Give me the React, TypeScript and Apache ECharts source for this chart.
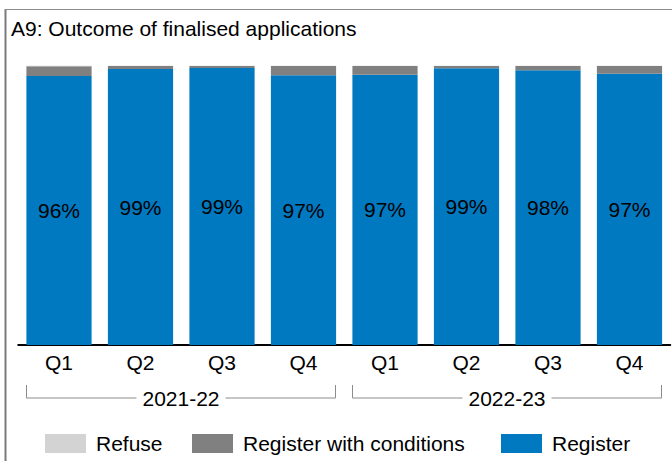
import React, { useEffect, useRef } from "react";
import * as echarts from "echarts";

const quarters = ["Q1", "Q2", "Q3", "Q4", "Q1", "Q2", "Q3", "Q4"];
const years = ["2021-22", "2022-23"];
const register = [96.3, 98.8, 99.2, 96.6, 96.8, 99.1, 98.4, 97.1];
const conditions = [3.5, 1.1, 0.7, 3.3, 3.1, 0.8, 1.5, 2.8];
const refuse = [0.2, 0.1, 0.1, 0.1, 0.1, 0.1, 0.1, 0.1];

const FONT = 'Arial, "Liberation Sans", sans-serif';
const BLUE = "#0079C1";
const DARK = "#808080";
const LIGHT = "#D3D3D3";
const FS = 21;

export default function App() {
  const ref = useRef<HTMLDivElement>(null);
  useEffect(() => {
    if (!ref.current) return;
    const chart = echarts.init(ref.current, undefined, { renderer: "svg" });
    const legendText = { fontFamily: FONT, fontSize: FS, color: "#000", padding: [0, 0, 0, 5] };
    const legendBase = { top: 433, itemWidth: 41, itemHeight: 19, icon: "rect", padding: 0, textStyle: legendText };
    chart.setOption({
      animation: false,
      textStyle: { fontFamily: FONT },
      title: {
        text: "A9: Outcome of finalised applications",
        left: 11,
        top: 18,
        padding: 0,
        textStyle: { fontFamily: FONT, fontSize: FS, fontWeight: "normal", color: "#000" },
      },
      grid: { left: 18.25, right: 1.75, top: 65.7, bottom: 116, containLabel: false },
      legend: [
        { ...legendBase, data: ["Refuse"], left: 45 },
        { ...legendBase, data: ["Register with conditions"], left: 192 },
        { ...legendBase, data: ["Register"], left: 501 },
      ],
      xAxis: {
        type: "category",
        data: quarters,
        axisLine: { lineStyle: { color: "#000", width: 2 } },
        axisTick: { alignWithLabel: true, length: 5, lineStyle: { color: "#808080" } },
        axisLabel: { fontFamily: FONT, fontSize: FS, color: "#000", margin: 7 },
      },
      yAxis: { type: "value", min: 0, max: 100, show: false, splitLine: { show: false } },
      series: [
        {
          name: "Register",
          type: "bar",
          stack: "all",
          data: register,
          barCategoryGap: "20%",
          itemStyle: { color: BLUE },
          label: {
            show: true,
            position: "inside",
            formatter: (p: any) => Math.round(p.value) + "%",
            fontFamily: FONT,
            fontSize: FS,
            color: "#000",
          },
        },
        { name: "Register with conditions", type: "bar", stack: "all", data: conditions, itemStyle: { color: DARK } },
        { name: "Refuse", type: "bar", stack: "all", data: refuse, itemStyle: { color: LIGHT } },
      ],
    });

    const px = (i: number) => chart.convertToPixel({ xAxisIndex: 0 }, i) as number;
    const base = chart.convertToPixel({ yAxisIndex: 0 }, 0) as number;
    const band = px(1) - px(0);
    const barW = band * 0.8;
    const yLine = base + 53;
    const yTop = base + 40;
    const graphics: any[] = [
      { type: "line", shape: { x1: 5.5, y1: 9, x2: 5.5, y2: 461 }, style: { stroke: "#7a7a7a", lineWidth: 2 } },
      { type: "line", shape: { x1: 5, y1: 9.5, x2: 672, y2: 9.5 }, style: { stroke: "#8c8c8c", lineWidth: 1 } },
    ];
    years.forEach((y, g) => {
      const x0 = Math.round(px(g * 4) - barW / 2) + 0.5;
      const x1 = Math.round(px(g * 4 + 3) + barW / 2) - 0.5;
      const stroke = { stroke: "#8c8c8c", lineWidth: 1 };
      graphics.push(
        { type: "line", shape: { x1: x0, y1: yTop, x2: x0, y2: yLine }, style: stroke },
        { type: "line", shape: { x1: x1, y1: yTop, x2: x1, y2: yLine }, style: stroke },
        { type: "line", shape: { x1: x0, y1: yLine, x2: x1, y2: yLine }, style: stroke },
        {
          type: "text",
          x: (x0 + x1) / 2,
          y: yLine,
          z: 10,
          style: {
            text: y,
            fontFamily: FONT,
            fontSize: FS,
            fill: "#000",
            align: "center",
            verticalAlign: "middle",
            backgroundColor: "#fff",
            padding: [0, 6],
          },
        }
      );
    });
    chart.setOption({ graphic: graphics });
    return () => chart.dispose();
  }, []);
  return (
    <div
      ref={ref}
      style={{ position: "fixed", left: 0, top: 0, width: 672, height: 461, background: "#fff" }}
    />
  );
}
